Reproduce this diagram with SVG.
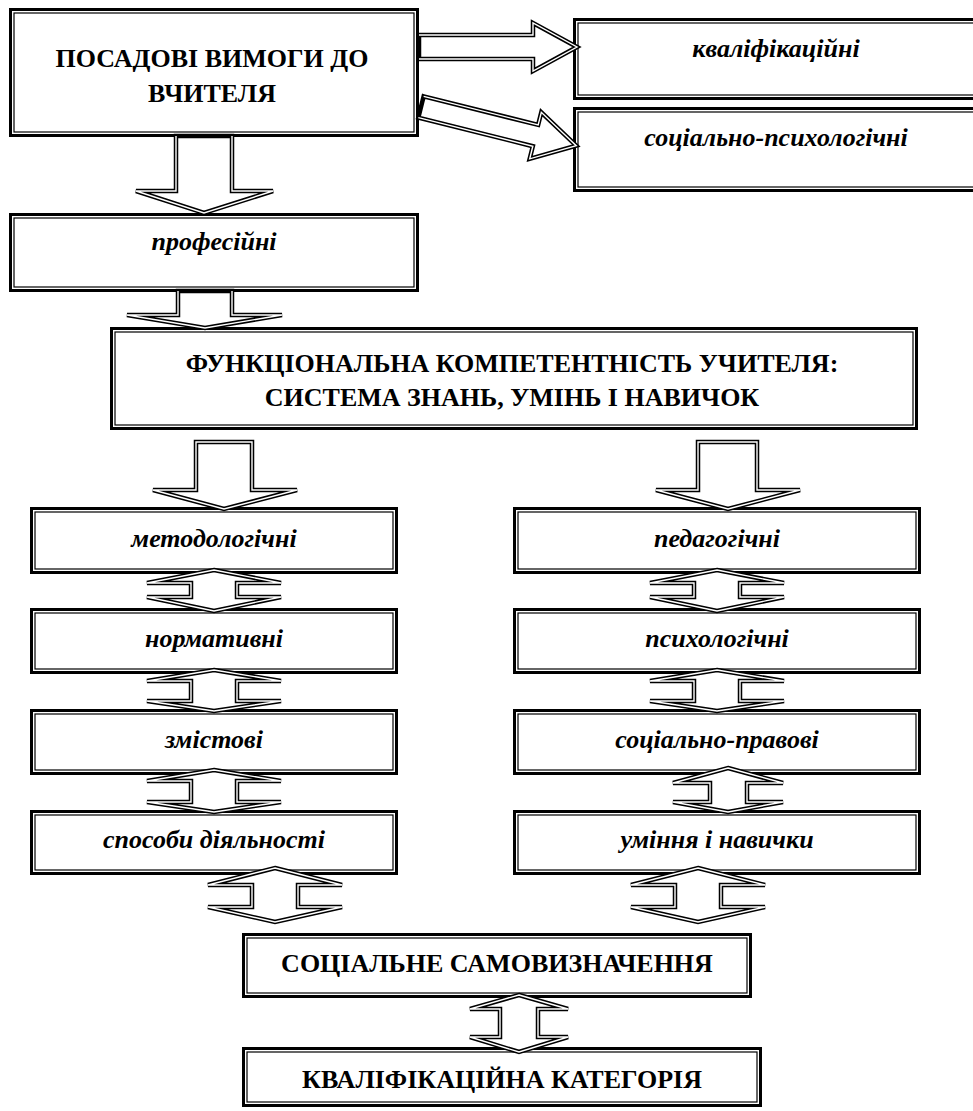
<svg xmlns="http://www.w3.org/2000/svg" width="973" height="1111" viewBox="0 0 973 1111">
<style>
.bo{fill:#fff;stroke:#000;stroke-width:3}
.bi{fill:none;stroke:#000;stroke-width:1.2}
.ao{fill:#fff;stroke:#000;stroke-width:4.5;stroke-linejoin:miter;stroke-miterlimit:6}
.ai{fill:none;stroke:#fff;stroke-width:1.4;stroke-linejoin:miter;stroke-miterlimit:6}
text{font-family:"Liberation Serif","Times New Roman",serif}
.cap{font-weight:700;font-size:26px;text-anchor:middle;fill:#000}
.it{font-weight:700;font-style:italic;font-size:26px;text-anchor:middle;fill:#000}
</style>
<rect width="973" height="1111" fill="#fff"/>

<g id="n-vymohy">
<rect class="bo" x="10.5" y="9.5" width="407" height="126"/>
<rect class="bi" x="14" y="13" width="400" height="119"/>
<text class="cap" x="212" y="67">ПОСАДОВІ ВИМОГИ ДО</text>
<text class="cap" x="212" y="102">ВЧИТЕЛЯ</text>
</g>
<g id="n-kvalifikatsiini">
<rect class="bo" x="574.5" y="19.5" width="404" height="79"/>
<rect class="bi" x="578" y="23" width="400" height="72"/>
<text class="it" x="776" y="57">кваліфікаційні</text>
</g>
<g id="n-sotsialno-psykholohichni">
<rect class="bo" x="574.5" y="108.5" width="404" height="82"/>
<rect class="bi" x="578" y="112" width="400" height="75"/>
<text class="it" x="776" y="146">соціально-психологічні</text>
</g>
<g id="n-profesiini">
<rect class="bo" x="10.5" y="214.5" width="407" height="76"/>
<rect class="bi" x="14" y="218" width="400" height="69"/>
<text class="it" x="214" y="250">професійні</text>
</g>
<g id="n-funktsionalna">
<rect class="bo" x="111.5" y="328.5" width="805" height="100"/>
<rect class="bi" x="115" y="332" width="798" height="93"/>
<text class="cap" x="512" y="372">ФУНКЦІОНАЛЬНА КОМПЕТЕНТНІСТЬ УЧИТЕЛЯ:</text>
<text class="cap" x="512" y="406">СИСТЕМА ЗНАНЬ, УМІНЬ І НАВИЧОК</text>
</g>
<g id="n-metodolohichni">
<rect class="bo" x="31.5" y="508.5" width="365" height="64"/>
<rect class="bi" x="35" y="512" width="358" height="57"/>
<text class="it" x="214" y="547">методологічні</text>
</g>
<g id="n-normatyvni">
<rect class="bo" x="31.5" y="609.5" width="365" height="63"/>
<rect class="bi" x="35" y="613" width="358" height="56"/>
<text class="it" x="214" y="647">нормативні</text>
</g>
<g id="n-zmistovi">
<rect class="bo" x="31.5" y="710.5" width="365" height="63"/>
<rect class="bi" x="35" y="714" width="358" height="56"/>
<text class="it" x="214" y="748">змістові</text>
</g>
<g id="n-sposoby">
<rect class="bo" x="31.5" y="811.5" width="365" height="62"/>
<rect class="bi" x="35" y="815" width="358" height="55"/>
<text class="it" x="214" y="848">способи діяльності</text>
</g>
<g id="n-pedahohichni">
<rect class="bo" x="514.5" y="508.5" width="405" height="64"/>
<rect class="bi" x="518" y="512" width="398" height="57"/>
<text class="it" x="717" y="547">педагогічні</text>
</g>
<g id="n-psykholohichni">
<rect class="bo" x="514.5" y="609.5" width="405" height="63"/>
<rect class="bi" x="518" y="613" width="398" height="56"/>
<text class="it" x="717" y="647">психологічні</text>
</g>
<g id="n-sotsialno-pravovi">
<rect class="bo" x="514.5" y="710.5" width="405" height="63"/>
<rect class="bi" x="518" y="714" width="398" height="56"/>
<text class="it" x="717" y="748">соціально-правові</text>
</g>
<g id="n-uminnia">
<rect class="bo" x="514.5" y="811.5" width="405" height="62"/>
<rect class="bi" x="518" y="815" width="398" height="55"/>
<text class="it" x="717" y="848">уміння і навички</text>
</g>
<g id="n-samovyznachennia">
<rect class="bo" x="243.5" y="934.5" width="507" height="62"/>
<rect class="bi" x="247" y="938" width="500" height="55"/>
<text class="cap" x="497" y="972">СОЦІАЛЬНЕ САМОВИЗНАЧЕННЯ</text>
</g>
<g id="n-katehoriia">
<rect class="bo" x="243.5" y="1048.5" width="517" height="57"/>
<rect class="bi" x="247" y="1052" width="510" height="50"/>
<text class="cap" x="502" y="1088">КВАЛІФІКАЦІЙНА КАТЕГОРІЯ</text>
</g>

<g id="connectors">
<path class="ao" d="M419,35 L533,35 L533,23 L577,47 L533,71 L533,59 L419,59 Z"/>
<path class="ai" d="M419,35 L533,35 L533,23 L577,47 L533,71 L533,59 L419,59"/>
<g transform="translate(421,107) rotate(14)">
<path class="ao" d="M0,-11 L118,-11 L118,-24 L160,0 L118,24 L118,11 L0,11 Z"/>
<path class="ai" d="M0,-11 L118,-11 L118,-24 L160,0 L118,24 L118,11 L0,11"/>
</g>
<path class="ao" d="M176,136 L176,191 L136,191 L204,213 L273,191 L232,191 L232,136 Z"/>
<path class="ai" d="M176,136 L176,191 L136,191 L204,213 L273,191 L232,191 L232,136"/>
<path class="ao" d="M178,291 L178,315 L127,315 L205,328 L282,315 L232,315 L232,291 Z"/>
<path class="ai" d="M178,291 L178,315 L127,315 L205,328 L282,315 L232,315 L232,291"/>
<path class="ao" d="M196,442 L196,490 L153,490 L224,509 L297,490 L252,490 L252,442 Z"/>
<path class="ai" d="M196,442 L196,490 L153,490 L224,509 L297,490 L252,490 L252,442 Z"/>
<path class="ao" d="M698,442 L698,490 L656,490 L728,509 L800,490 L757,490 L757,442 Z"/>
<path class="ai" d="M698,442 L698,490 L656,490 L728,509 L800,490 L757,490 L757,442 Z"/>

<path class="ao" d="M214,570 L281,583 L237,583 L237,597 L281,597 L214,611 L147,597 L191,597 L191,583 L147,583 Z"/>
<path class="ai" d="M214,570 L281,583 L237,583 L237,597 L281,597 L214,611 L147,597 L191,597 L191,583 L147,583 Z"/>
<path class="ao" d="M214,670 L281,681 L237,681 L237,701 L281,701 L214,711 L147,701 L191,701 L191,681 L147,681 Z"/>
<path class="ai" d="M214,670 L281,681 L237,681 L237,701 L281,701 L214,711 L147,701 L191,701 L191,681 L147,681 Z"/>
<path class="ao" d="M214,770 L281,781 L237,781 L237,802 L281,802 L214,812 L147,802 L191,802 L191,781 L147,781 Z"/>
<path class="ai" d="M214,770 L281,781 L237,781 L237,802 L281,802 L214,812 L147,802 L191,802 L191,781 L147,781 Z"/>

<path class="ao" d="M717,570 L784,583 L740,583 L740,597 L784,597 L717,611 L650,597 L694,597 L694,583 L650,583 Z"/>
<path class="ai" d="M717,570 L784,583 L740,583 L740,597 L784,597 L717,611 L650,597 L694,597 L694,583 L650,583 Z"/>
<path class="ao" d="M717,670 L784,681 L740,681 L740,701 L784,701 L717,711 L650,701 L694,701 L694,681 L650,681 Z"/>
<path class="ai" d="M717,670 L784,681 L740,681 L740,701 L784,701 L717,711 L650,701 L694,701 L694,681 L650,681 Z"/>
<path class="ao" d="M728,768 L783,783 L747,783 L747,802 L783,802 L728,812 L673,802 L710,802 L710,783 L673,783 Z"/>
<path class="ai" d="M728,768 L783,783 L747,783 L747,802 L783,802 L728,812 L673,802 L710,802 L710,783 L673,783 Z"/>

<path class="ao" d="M275,868 L342,885 L298,885 L298,907 L342,907 L275,922 L208,907 L252,907 L252,885 L208,885 Z"/>
<path class="ai" d="M275,868 L342,885 L298,885 L298,907 L342,907 L275,922 L208,907 L252,907 L252,885 L208,885 Z"/>
<path class="ao" d="M698,868 L765,885 L721,885 L721,907 L765,907 L698,922 L631,907 L675,907 L675,885 L631,885 Z"/>
<path class="ai" d="M698,868 L765,885 L721,885 L721,907 L765,907 L698,922 L631,907 L675,907 L675,885 L631,885 Z"/>
<path class="ao" d="M519,995 L568,1009 L538,1009 L538,1037 L568,1037 L519,1052 L470,1037 L500,1037 L500,1009 L470,1009 Z"/>
<path class="ai" d="M519,995 L568,1009 L538,1009 L538,1037 L568,1037 L519,1052 L470,1037 L500,1037 L500,1009 L470,1009 Z"/>
</g>
</svg>
